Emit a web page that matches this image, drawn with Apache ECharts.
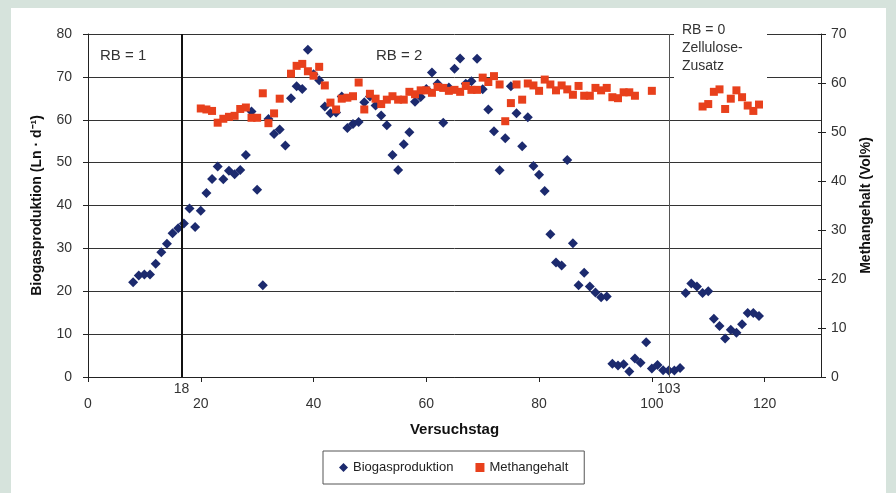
<!DOCTYPE html>
<html><head><meta charset="utf-8">
<script src="https://cdn.jsdelivr.net/npm/echarts@6/dist/echarts.min.js"></script>
<style>
html,body{margin:0;padding:0;background:#d6e3dc;}
#panel{position:absolute;left:11px;top:8px;width:875px;height:485px;background:#fff;}
#chart{position:absolute;left:0;top:0;width:896px;height:493px;}
</style></head><body><div id="panel"></div><div id="chart"></div>
<script>
// Biogasproduktion (left axis, Ln·d-1)
const bioDays = [8,9,10,11,12,13,14,15,16,17,18,19,20,21,22,23,24,25,26,27,28,29,30,31,32,33,34,35,36,37,38,39,40,41,42,43,44,45,46,47,48,49,50,51,52,53,54,55,56,57,58,59,60,61,62,63,64,65,66,67,68,69,70,71,72,73,74,75,76,77,78,79,80,81,82,83,84,85,86,87,88,89,90,91,92,93,94,95,96,97,98,99,100,101,102,103,104,105,106,107,108,109,110,111,112,113,114,115,116,117,118,119];
const bioValues = [22.1,23.7,23.9,23.9,26.4,29.1,31.1,33.5,34.7,35.8,39.3,35.0,38.8,42.9,46.2,49.1,46.1,48.1,47.3,48.3,51.8,61.9,43.7,21.4,60.2,56.7,57.7,54.0,65.0,67.8,67.2,76.3,70.6,69.2,63.1,61.5,61.7,65.4,58.1,59.0,59.5,64.1,65.4,63.3,61.0,58.7,51.8,48.3,54.3,57.1,64.2,65.3,67.2,71.0,68.4,59.3,67.5,71.9,74.3,68.4,69.0,74.2,67.1,62.4,57.3,48.2,55.7,67.8,61.5,53.8,60.6,49.2,47.2,43.4,33.3,26.7,26.0,50.6,31.2,21.4,24.3,21.1,19.7,18.6,18.8,3.1,2.7,3.0,1.3,4.3,3.3,8.1,2.0,2.8,1.6,1.5,1.5,2.1,19.6,21.8,21.1,19.6,20.0,13.6,11.9,9.0,11.0,10.3,12.3,14.9,14.9,14.2];
// Methangehalt (right axis, Vol%)
const methDays = [20,21,22,23,24,25,26,27,28,29,30,31,32,33,34,36,37,38,39,40,41,42,43,44,45,46,47,48,49,50,51,52,53,54,55,56,57,58,59,60,61,62,63,64,65,66,67,68,69,70,71,72,73,74,75,76,77,78,79,80,81,82,83,84,85,86,87,88,89,90,91,92,93,94,95,96,97,100,109,110,111,112,113,114,115,116,117,118,119];
const methValues = [54.8,54.6,54.3,51.9,52.7,53.1,53.3,54.7,55.0,52.9,52.9,57.9,51.8,53.8,56.8,61.9,63.5,63.9,62.4,61.5,63.3,59.5,56.0,54.6,56.8,57.0,57.3,60.1,54.6,57.8,56.8,55.7,56.6,57.3,56.6,56.6,58.2,57.7,58.5,58.5,58.0,59.2,59.0,58.4,58.6,58.2,59.4,58.6,58.6,61.1,60.2,61.4,59.7,52.2,55.9,59.7,56.6,59.9,59.5,58.4,60.7,59.7,58.5,59.5,58.7,57.6,59.4,57.4,57.4,59.0,58.5,59.0,57.1,56.9,58.1,58.1,57.4,58.4,55.2,55.7,58.2,58.7,54.7,56.8,58.5,57.1,55.4,54.3,55.6];
// Phase boundaries (position on axis, printed label)
const phaseLines = [{pos: 16.6, label: '18'}, {pos: 103, label: '103'}];
const phaseTexts = ['RB = 1', 'RB = 2', 'RB = 0\nZellulose-\nZusatz'];
const seriesNames = ['Biogasproduktion', 'Methangehalt'];

const bioData = bioDays.map((d, i) => [d, bioValues[i]]);
const methData = methDays.map((d, i) => [d, methValues[i]]);

const chart = echarts.init(document.getElementById('chart'));
const font = 'Liberation Sans, Arial, sans-serif';
chart.setOption({
  animation: false,
  backgroundColor: 'transparent',
  grid: {left: 88, right: 75, top: 34, bottom: 116},
  legend: {
    left: 323, top: 451, width: 266,
    padding: [10, 16, 10, 16],
    borderColor: '#555', borderWidth: 1,
    itemWidth: 9, itemHeight: 9, itemGap: 22,
    textStyle: {fontFamily: font, fontSize: 13, color: '#222'},
    data: [{name: seriesNames[0], icon: 'diamond'}, {name: seriesNames[1], icon: 'rect'}]
  },
  xAxis: {
    type: 'value', min: 0, max: 130, interval: 20,
    name: 'Versuchstag', nameLocation: 'middle', nameGap: 45,
    nameTextStyle: {fontFamily: font, fontSize: 15, fontWeight: 'bold', color: '#111'},
    axisLine: {lineStyle: {color: '#222', width: 1}},
    axisTick: {length: 5, lineStyle: {color: '#222'}},
    axisLabel: {margin: 20, fontFamily: font, fontSize: 14, color: '#333', showMaxLabel: false},
    splitLine: {show: false}
  },
  yAxis: [{
    type: 'value', min: 0, max: 80, interval: 10, position: 'left',
    name: 'Biogasproduktion (Ln \u00b7 d\u207b\u00b9)', nameLocation: 'middle', nameGap: 44, nameRotate: 90,
    nameTextStyle: {fontFamily: font, fontSize: 14, fontWeight: 'bold', color: '#111'},
    axisLine: {show: true, lineStyle: {color: '#222'}},
    axisTick: {length: 5, lineStyle: {color: '#222'}},
    axisLabel: {margin: 16, fontFamily: font, fontSize: 14, color: '#333'},
    splitLine: {show: true, lineStyle: {color: '#333', width: 1}}
  }, {
    type: 'value', min: 0, max: 70, interval: 10, position: 'right',
    name: 'Methangehalt (Vol%)', nameLocation: 'middle', nameGap: 38, nameRotate: 90,
    nameTextStyle: {fontFamily: font, fontSize: 14, fontWeight: 'bold', color: '#111'},
    axisLine: {show: true, lineStyle: {color: '#222'}},
    axisTick: {length: 5, lineStyle: {color: '#222'}},
    axisLabel: {margin: 10, fontFamily: font, fontSize: 14, color: '#333'},
    splitLine: {show: false}
  }, {
    type: 'value', min: 0, max: 70, interval: 10, position: 'right',
    axisLine: {show: false},
    axisTick: {show: true, inside: true, length: 3, lineStyle: {color: '#222'}},
    axisLabel: {show: false},
    splitLine: {show: false}
  }],
  series: [{
    name: seriesNames[0], type: 'scatter', yAxisIndex: 0,
    symbol: 'diamond', symbolSize: [10, 10],
    itemStyle: {color: '#1c2a6e', opacity: 1},
    data: bioData,
    z: 3,
    markLine: {
      silent: true, symbol: ['none', 'none'], animation: false,
      data: [
        {xAxis: phaseLines[0].pos, lineStyle: {color: '#111', width: 2, type: 'solid'},
         label: {show: true, position: 'start', distance: 5, formatter: phaseLines[0].label, fontFamily: font, fontSize: 14, color: '#333'}},
        {xAxis: phaseLines[1].pos, lineStyle: {color: '#555', width: 1, type: 'solid'},
         label: {show: true, position: 'start', distance: 5, formatter: phaseLines[1].label, fontFamily: font, fontSize: 14, color: '#333'}}
      ]
    }
  }, {
    name: seriesNames[1], type: 'scatter', yAxisIndex: 1,
    symbol: 'rect', symbolSize: 8,
    itemStyle: {color: '#e8401c', opacity: 1},
    data: methData,
    z: 4
  }],
  graphic: [
    {type: 'rect', z: 50, shape: {x: 674, y: 24, width: 93, height: 56}, style: {fill: '#fff'}},
    {type: 'text', z: 51, x: 100, y: 48, style: {text: phaseTexts[0], font: '15px ' + font, fill: '#333'}},
    {type: 'text', z: 51, x: 376, y: 48, style: {text: phaseTexts[1], font: '15px ' + font, fill: '#333'}},
    {type: 'text', z: 51, x: 682, y: 21, style: {text: phaseTexts[2], font: '14px ' + font, fill: '#333', lineHeight: 18}}
  ]
});
</script></body></html>
